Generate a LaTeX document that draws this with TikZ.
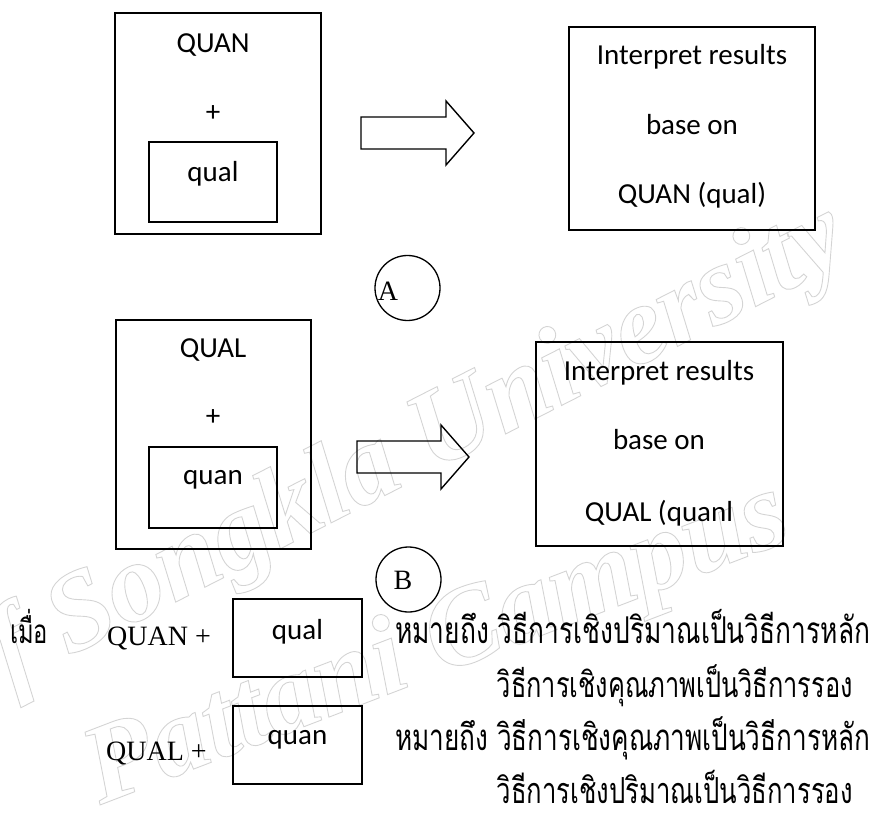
\documentclass[tikz,border=0pt]{standalone}
\usepackage{fontspec}
\usepackage{graphicx}
\setmainfont{Liberation Serif}
\newfontfamily\calfont{Carlito}
\newfontfamily\thaifont[Script=Thai]{Loma}
\newfontfamily\wmfont{Liberation Serif}
\newcommand\outlinetext[1]{\special{pdf:literal direct 1 Tr 0.9 w}#1\special{pdf:literal direct 0 Tr}}
\newcommand\thaiscaled[2]{\scalebox{1}[1.4]{\resizebox{#1}{!}{#2}}}
\tikzset{
  frame/.style={draw, line width=1.4pt, inner sep=0pt},
  lbl/.style={inner sep=0pt, font=\calfont\fontsize{29}{34}\selectfont},
  tms/.style={inner sep=0pt, font=\fontsize{28}{33}\selectfont},
  ring/.style={draw, circle, line width=1.3pt, minimum size=65pt, inner sep=0pt},
  blockarrow/.style={draw, line width=1.4pt, line join=miter},
  thai/.style={inner sep=0pt, font=\thaifont\fontsize{30}{36}\selectfont},
  wm/.style={inner sep=0pt, text=black!17, font=\wmfont\itshape\bfseries\fontsize{112}{112}\selectfont}
}
\begin{document}
\begin{tikzpicture}[x=1pt,y=-1pt]
\useasboundingbox (0,0) rectangle (873,818);
% watermark
\begin{scope}
\clip (0,0) rectangle (873,818);
\node[wm, rotate=27, anchor=base west] (wm1) at (-40,712) {\outlinetext{of Songkla University}};
\node[wm, rotate=21, anchor=base west] (wm2) at (100,805) {\outlinetext{Pattani Campus}};
\end{scope}
% ---- A ----
\node[frame, minimum width=206pt, minimum height=221pt] (outA) at (218,123.5) {};
\node[lbl] (quanA) at (213,45) {QUAN};
\node[lbl] (plusA) at (213,114) {+};
\node[frame, minimum width=128pt, minimum height=80pt] (inA) at (213,182) {};
\node[lbl] (qualA) at (213,174) {qual};
\coordinate (a1) at (361,117); \coordinate (a2) at (446,117); \coordinate (a3) at (446,101);
\coordinate (a4) at (474,133); \coordinate (a5) at (446,165); \coordinate (a6) at (446,149);
\coordinate (a7) at (361,149);
\draw[blockarrow] (a1) -- (a2) -- (a3) -- (a4) -- (a5) -- (a6) -- (a7) -- cycle;
\node[frame, minimum width=246pt, minimum height=203pt] (resA) at (692,128.5) {};
\node[lbl] (rA1) at (692,57) {Interpret results};
\node[lbl] (rA2) at (692,125) {base on};
\node[lbl] (rA3) at (692,195) {QUAN (qual)};
\node[ring] (cA) at (407.5,288) {};
\node[tms] (labA) at (388,291) {A};
% ---- B ----
\node[frame, minimum width=195pt, minimum height=229pt] (outB) at (213.5,434.5) {};
\node[lbl] (qualB) at (213,350) {QUAL};
\node[lbl] (plusB) at (213,418) {+};
\node[frame, minimum width=128pt, minimum height=81pt] (inB) at (213,487.5) {};
\node[lbl] (quanB) at (213,480) {quan};
\coordinate (b1) at (357,441); \coordinate (b2) at (441,441); \coordinate (b3) at (441,425);
\coordinate (b4) at (469,457); \coordinate (b5) at (441,489); \coordinate (b6) at (441,473);
\coordinate (b7) at (357,473);
\draw[blockarrow] (b1) -- (b2) -- (b3) -- (b4) -- (b5) -- (b6) -- (b7) -- cycle;
\node[frame, minimum width=247pt, minimum height=204pt] (resB) at (659.5,444) {};
\node[lbl] (rB1) at (659,373) {Interpret results};
\node[lbl] (rB2) at (659,440) {base on};
\node[lbl] (rB3) at (659,513) {QUAL (quanl};
\node[ring] (cB) at (408.5,579.5) {};
\node[tms] (labB) at (403,580) {B};
% ---- legend ----
\node[thai, anchor=base west] (when) at (10,643) {\thaiscaled{38pt}{เมื่อ}};
\node[tms, anchor=base west] (quanL) at (107,645) {QUAN +};
\node[frame, minimum width=129pt, minimum height=78pt] (boxL1) at (297.5,638) {};
\node[lbl, anchor=base] (qualL) at (297.5,639) {qual};
\node[tms, anchor=base west] (qualL2) at (106,760) {QUAL +};
\node[frame, minimum width=129pt, minimum height=78pt] (boxL2) at (297.5,745) {};
\node[lbl, anchor=base] (quanL2) at (297.5,744) {quan};
\node[thai, anchor=base west] (t1) at (395,643) {\thaiscaled{475pt}{หมายถึง วิธีการเชิงปริมาณเป็นวิธีการหลัก}};
\node[thai, anchor=base east] (t2) at (853,697) {\thaiscaled{356pt}{วิธีการเชิงคุณภาพเป็นวิธีการรอง}};
\node[thai, anchor=base west] (t3) at (395,750) {\thaiscaled{475pt}{หมายถึง วิธีการเชิงคุณภาพเป็นวิธีการหลัก}};
\node[thai, anchor=base east] (t4) at (853,803) {\thaiscaled{356pt}{วิธีการเชิงปริมาณเป็นวิธีการรอง}};
\end{tikzpicture}
\end{document}
